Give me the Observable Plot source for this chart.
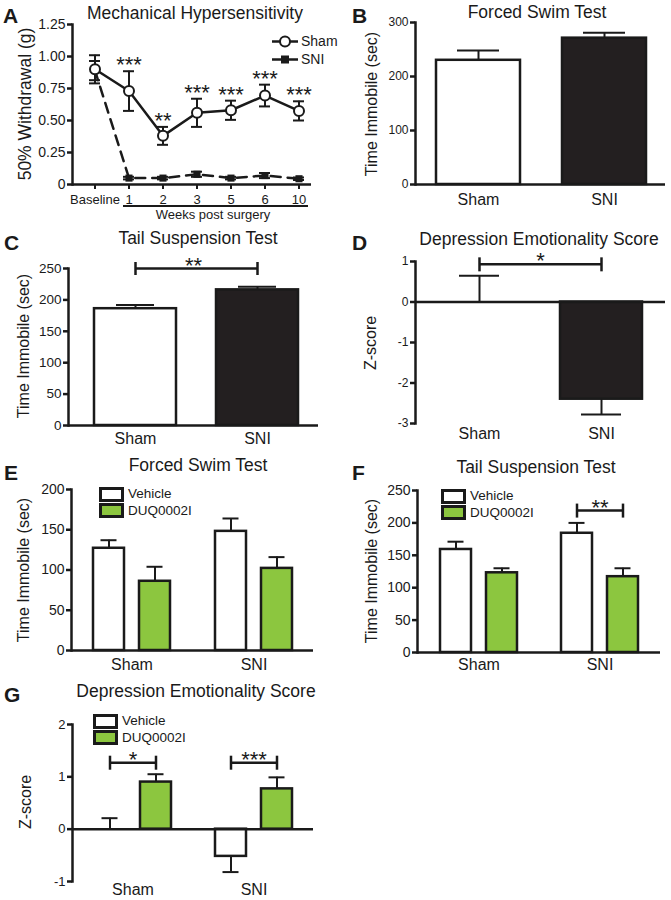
<!DOCTYPE html>
<html><head><meta charset="utf-8">
<script src="https://cdn.jsdelivr.net/npm/d3@7"></script>
<script src="https://cdn.jsdelivr.net/npm/@observablehq/plot@0.6"></script>
<style>
body{margin:0;background:#fff;}
#page{position:relative;width:671px;height:900px;overflow:hidden;font-family:'Liberation Sans',Arial,Helvetica,sans-serif;}
#page svg{position:absolute;}
.lg{position:absolute;box-sizing:border-box;border:3px solid #1a1a1a;}
</style></head><body><div id="page"></div>
<script>
// ---------------- DATA ----------------
// Panel A: Mechanical Hypersensitivity
const weekLabels = ["Baseline","1","2","3","5","6","10"];
const shamWithdrawal    = [0.90, 0.73, 0.38, 0.56, 0.58, 0.695, 0.575];
const shamWithdrawalSEM = [0.11, 0.155, 0.07, 0.11, 0.075, 0.085, 0.075];
const sniWithdrawal     = [0.89, 0.05, 0.05, 0.08, 0.05, 0.07, 0.045];
const sniWithdrawalSEM  = [0.075, 0.01, 0.01, 0.02, 0.01, 0.02, 0.01];
const starsA = ["","***","**","***","***","***","***"];
const yTicksA = [0, 0.25, 0.5, 0.75, 1, 1.25];

// Panels B, C, D: Sham vs SNI
const groups = ["Sham","SNI"];
const fstMean = [230, 271], fstSEM = [18, 10];
const tstMean = [186, 216], tstSEM = [6, 5];
const zMean = [0.0, -2.4], zSEM = [0.65, 0.38];
const bracketC = {from:"Sham", to:"SNI", value: 250, label: "**"};
const bracketD = {from:"Sham", to:"SNI", value: 0.93, label: "*"};

// Panels E, F, G: Vehicle vs DUQ0002I
const treatments = ["Vehicle","DUQ0002I"];
const fstVehicle = [127, 148], fstVehicleSEM = [10, 16];
const fstDrug    = [86, 102],  fstDrugSEM    = [18, 14];
const tstVehicle = [159, 184], tstVehicleSEM = [12, 16];
const tstDrug    = [123, 117], tstDrugSEM    = [7, 13];
const zVehicle   = [0.0, -0.52], zVehicleSEM = [0.21, 0.30];
const zDrug      = [0.90, 0.77], zDrugSEM    = [0.15, 0.22];
const bracketsF = [{group:"SNI", value:219, label:"**"}];
const bracketsG = [{group:"Sham", value:1.27, label:"*"},{group:"SNI", value:1.27, label:"***"}];

// ---------------- STYLE ----------------
const FONT = "'Liberation Sans', Arial, Helvetica, sans-serif";
const INK = "#1a1a1a", DARK = "#231f20", GREEN = "#8cc63f";
const page = document.getElementById("page");
const vtick = {draw(ctx, size){ const r = Math.sqrt(size/Math.PI); ctx.moveTo(0,-r); ctx.lineTo(0,r); }};
function place(svg, left, top){ svg.style.left = left+"px"; svg.style.top = top+"px"; page.appendChild(svg); }
function basePlot(o){ return Plot.plot({...o, style:{fontFamily:FONT, color:INK, background:"transparent", overflow:"visible"}}); }
const rec = (g, m, s) => g.map((k,i)=>({group:k, mean:m[i], sem:s[i], tip: m[i] + (m[i] < 0 ? -s[i] : s[i])}));

// ---------------- PANEL A ----------------
const aSham = weekLabels.map((w,i)=>({week:w, mean:shamWithdrawal[i], sem:shamWithdrawalSEM[i], star:starsA[i]}));
const aSNI  = weekLabels.map((w,i)=>({week:w, mean:sniWithdrawal[i], sem:sniWithdrawalSEM[i]}));
place(basePlot({
  width:335, height:230, marginLeft:72, marginRight:24, marginTop:24, marginBottom:46,
  x:{type:"band", domain:weekLabels, range:[89,304], paddingInner:0.68, paddingOuter:0},
  y:{domain:[0,1.25]},
  marks:[
    Plot.ruleY([0], {strokeWidth:2.5}),
    Plot.frame({anchor:"left", strokeWidth:2.5}),
    Plot.axisX({tickSize:5, tickPadding:5, strokeWidth:2, fontSize:13, label:null}),
    Plot.axisY({ticks:yTicksA, tickFormat:d=>d===0?"0":d.toFixed(2), tickSize:5, tickPadding:2, strokeWidth:2.5, fontSize:14, label:null}),
    Plot.ruleX(aSNI, {x:"week", y1:d=>d.mean-d.sem, y2:d=>d.mean+d.sem, strokeWidth:2}),
    Plot.tickY(aSNI, {x:"week", y:d=>d.mean+d.sem, strokeWidth:2}),
    Plot.tickY(aSNI, {x:"week", y:d=>d.mean-d.sem, strokeWidth:2}),
    Plot.line(aSNI, {x:"week", y:"mean", strokeWidth:2.5, strokeDasharray:"10,7"}),
    Plot.dot(aSNI, {x:"week", y:"mean", symbol:"square", r:4, fill:INK}),
    Plot.ruleX(aSham, {x:"week", y1:d=>d.mean-d.sem, y2:d=>d.mean+d.sem, strokeWidth:2}),
    Plot.tickY(aSham, {x:"week", y:d=>d.mean+d.sem, strokeWidth:2}),
    Plot.tickY(aSham, {x:"week", y:d=>d.mean-d.sem, strokeWidth:2}),
    Plot.line(aSham, {x:"week", y:"mean", strokeWidth:2.5}),
    Plot.dot(aSham, {x:"week", y:"mean", r:5, fill:"white", stroke:INK, strokeWidth:2}),
    Plot.text(aSham, {x:"week", y:d=>d.mean+d.sem, text:"star", lineAnchor:"bottom", dy:1, fontSize:22})
  ]
}), 0, 0);

// ---------------- SIMPLE BAR PANELS (B, C, D) ----------------
function simpleBars(o){
  const data = rec(groups, o.means, o.sems);
  const marks = [
    Plot.ruleX(data, {x:"group", y1:"mean", y2:"tip", strokeWidth:2}),
    Plot.tickY(data, {x:"group", y:"tip", insetLeft:o.capInset, insetRight:o.capInset, strokeWidth:2}),
    Plot.barY(data, {x:"group", y:"mean", fill:(d,i)=>i===0?"white":DARK, stroke:INK, strokeWidth:2.5}),
    Plot.ruleY([0], {strokeWidth:2.5}),
    Plot.frame({anchor:"left", strokeWidth:2.5}),
    Plot.axisY({ticks:o.ticks, tickFormat:d=>String(d), tickSize:5, tickPadding:2, strokeWidth:2.5, fontSize:o.tickFont, label:null}),
    Plot.axisX({tickSize:0, tickPadding:o.xPad, fontSize:16, label:null})
  ];
  if (o.bracket){
    const ends = [{group:o.bracket.from, value:o.bracket.value},{group:o.bracket.to, value:o.bracket.value}];
    marks.push(
      Plot.link([o.bracket], {x1:"from", x2:"to", y1:"value", y2:"value", stroke:INK, strokeWidth:2.5}),
      Plot.dot(ends, {x:"group", y:"value", symbol:vtick, r:o.bracketTick, stroke:INK, strokeWidth:2.5}),
      Plot.text([o.bracket], {y:"value", text:"label", lineAnchor:"bottom", dy:4, fontSize:22})
    );
  }
  return basePlot({
    width:o.width, height:o.height, marginLeft:o.ml, marginRight:o.mr, marginTop:o.mt, marginBottom:o.mb,
    x:{domain:groups, range:o.xRange, paddingInner:0.33, paddingOuter:0},
    y:{domain:o.yDomain},
    marks
  });
}
place(simpleBars({means:fstMean, sems:fstSEM, width:336, height:225, ml:80, mr:6, mt:22, mb:41,
  xRange:[100,312], yDomain:[0,300], ticks:[0,100,200,300], tickFont:12, xPad:9, capInset:21}), 335, 0);
place(simpleBars({means:tstMean, sems:tstSEM, width:335, height:220, ml:68, mr:17, mt:38, mb:25,
  xRange:[93,298], yDomain:[0,250], ticks:[0,50,100,150,200,250], tickFont:13.5, xPad:7, capInset:22,
  bracket:bracketC, bracketTick:6.5}), 0, 230);
place(simpleBars({means:zMean, sems:zSEM, width:336, height:220, ml:80, mr:6, mt:31, mb:27,
  xRange:[102,307], yDomain:[-3,1], ticks:[-3,-2,-1,0,1], tickFont:12, xPad:4, capInset:21,
  bracket:bracketD, bracketTick:7}), 335, 230);

// ---------------- GROUPED BAR PANELS (E, F, G) ----------------
function groupedBars(o){
  const veh = rec(groups, o.veh, o.vehSEM), drug = rec(groups, o.drug, o.drugSEM);
  const off = o.off; // half distance between bar centres
  const marks = [
    Plot.ruleX(veh, {x:"group", y1:"mean", y2:"tip", dx:-off, strokeWidth:2}),
    Plot.ruleX(drug, {x:"group", y1:"mean", y2:"tip", dx:off, strokeWidth:2}),
    Plot.tickY(veh, {x:"group", y:"tip", insetLeft:7.5, insetRight:o.gapInset+7.5, strokeWidth:2}),
    Plot.tickY(drug, {x:"group", y:"tip", insetLeft:o.gapInset+7.5, insetRight:7.5, strokeWidth:2}),
    Plot.barY(veh, {x:"group", y:"mean", insetRight:o.gapInset, fill:"white", stroke:INK, strokeWidth:2.5}),
    Plot.barY(drug, {x:"group", y:"mean", insetLeft:o.gapInset, fill:GREEN, stroke:INK, strokeWidth:2.5}),
    Plot.ruleY([0], {strokeWidth:2.5}),
    Plot.frame({anchor:"left", strokeWidth:2.5}),
    Plot.axisY({ticks:o.ticks, tickFormat:d=>String(d), tickSize:5, tickPadding:2, strokeWidth:2.5, fontSize:o.tickFont, label:null}),
    Plot.axisX({tickSize:0, tickPadding:o.xPad, fontSize:16, label:null})
  ];
  if (o.brackets){
    marks.push(
      Plot.tickY(o.brackets, {x:"group", y:"value", insetLeft:15.5, insetRight:15.5, strokeWidth:2.5}),
      Plot.dot(o.brackets, {x:"group", y:"value", dx:-off, symbol:vtick, r:7, stroke:INK, strokeWidth:2.5}),
      Plot.dot(o.brackets, {x:"group", y:"value", dx:off, symbol:vtick, r:7, stroke:INK, strokeWidth:2.5}),
      Plot.text(o.brackets, {x:"group", y:"value", text:"label", lineAnchor:"bottom", dy:4, fontSize:22})
    );
  }
  return basePlot({
    width:o.width, height:o.height, marginLeft:o.ml, marginRight:o.mr, marginTop:o.mt, marginBottom:o.mb,
    x:{domain:groups, range:o.xRange, paddingInner:o.pi, paddingOuter:0},
    y:{domain:o.yDomain},
    marks
  });
}
place(groupedBars({veh:fstVehicle, vehSEM:fstVehicleSEM, drug:fstDrug, drugSEM:fstDrugSEM,
  width:335, height:225, ml:71, mr:22, mt:39, mb:25, xRange:[93,292], pi:0.369, off:23, gapInset:46,
  yDomain:[0,200], ticks:[0,50,100,150,200], tickFont:14, xPad:8}), 0, 450);
place(groupedBars({veh:tstVehicle, vehSEM:tstVehicleSEM, drug:tstDrug, drugSEM:tstDrugSEM,
  width:336, height:225, ml:82, mr:11, mt:40, mb:23, xRange:[105,303], pi:0.364, off:23, gapInset:46,
  yDomain:[0,250], ticks:[0,50,100,150,200,250], tickFont:14, xPad:6.5, brackets:bracketsF}), 335, 450);
place(groupedBars({veh:zVehicle, vehSEM:zVehicleSEM, drug:zDrug, drugSEM:zDrugSEM,
  width:335, height:225, ml:72, mr:22, mt:49, mb:19, xRange:[94,293], pi:0.36, off:23, gapInset:46,
  yDomain:[-1,2], ticks:[-1,0,1,2], tickFont:13, xPad:2, brackets:bracketsG}), 0, 675);

// ---------------- TITLES, LETTERS, AXIS LABELS, LEGENDS ----------------
const overlay = d3.select(page).append("svg").attr("width",671).attr("height",900)
  .style("left","0px").style("top","0px").style("pointer-events","none")
  .attr("font-family", FONT).attr("fill", INK);
const letters = [["A",3,23],["B",352,23],["C",4,250],["D",352,250],["E",4,480],["F",352,480],["G",4,702]];
letters.forEach(([t,x,y])=>overlay.append("text").attr("x",x).attr("y",y).attr("font-size",21).attr("font-weight","bold").text(t));
const titles = [["Mechanical Hypersensitivity",195,19],["Forced Swim Test",537,17.5],["Tail Suspension Test",198,244],
  ["Depression Emotionality Score",539,245],["Forced Swim Test",198,471],["Tail Suspension Test",536,473],["Depression Emotionality Score",196,697]];
titles.forEach(([t,x,y])=>overlay.append("text").attr("x",x).attr("y",y).attr("font-size",17.5).attr("text-anchor","middle").text(t));
const ylabels = [["50% Withdrawal (g)",25,104,17.5],["Time Immobile (sec)",371,104,16],["Time Immobile (sec)",23,346,16],
  ["Z-score",370,343,16],["Time Immobile (sec)",23,570,16],["Time Immobile (sec)",371,571,16],["Z-score",25,802,16]];
ylabels.forEach(([t,x,y,s])=>overlay.append("text").attr("transform",`translate(${x},${y}) rotate(-90)`)
  .attr("font-size",s).attr("text-anchor","middle").attr("dominant-baseline","central").text(t));
// Weeks post surgery
overlay.append("line").attr("x1",123).attr("x2",308).attr("y1",206).attr("y2",206).attr("stroke",INK).attr("stroke-width",2);
overlay.append("text").attr("x",213).attr("y",219).attr("font-size",13).attr("text-anchor","middle").text("Weeks post surgery");
// Legend A
const lgA = overlay.append("g");
lgA.append("line").attr("x1",272).attr("x2",298).attr("y1",41.5).attr("y2",41.5).attr("stroke",INK).attr("stroke-width",2.5);
lgA.append("circle").attr("cx",285).attr("cy",41.5).attr("r",5).attr("fill","white").attr("stroke",INK).attr("stroke-width",2);
lgA.append("text").attr("x",301).attr("y",46).attr("font-size",14).text("Sham");
lgA.append("line").attr("x1",272).attr("x2",298).attr("y1",59.5).attr("y2",59.5).attr("stroke",INK).attr("stroke-width",2.5);
lgA.append("rect").attr("x",281).attr("y",55.5).attr("width",8).attr("height",8).attr("fill",INK);
lgA.append("text").attr("x",301).attr("y",64).attr("font-size",14).text("SNI");
// Legends E, F, G
function legend(x, y1, y2, t1, t2){
  const mk = (top, fill) => { const d = document.createElement("div"); d.className="lg";
    Object.assign(d.style,{left:x+"px", top:top+"px", width:"25px", height:"15px", background:fill}); page.appendChild(d); };
  mk(y1-11, "white"); mk(y2-12, GREEN);
  overlay.append("text").attr("x",x+29).attr("y",y1).attr("font-size",13.5).text(t1);
  overlay.append("text").attr("x",x+29).attr("y",y2).attr("font-size",13.5).text(t2);
}
legend(99, 498, 515, treatments[0], treatments[1]);
legend(441, 500, 517, treatments[0], treatments[1]);
legend(93, 725, 742, treatments[0], treatments[1]);
</script></body></html>
